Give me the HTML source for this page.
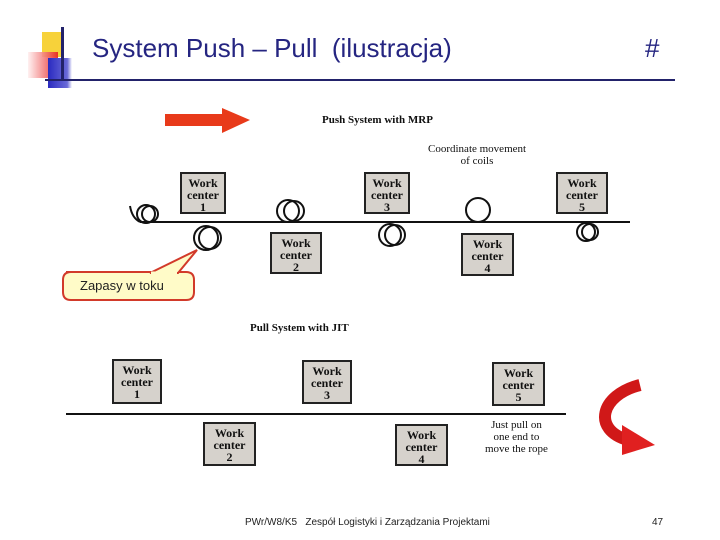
<!DOCTYPE html>
<html><head><style>
body{margin:0;width:720px;height:540px;background:#fff;position:relative;overflow:hidden;font-family:"Liberation Serif",serif}
.wc{position:absolute;background:#d6d2cc;border:2px solid #222;box-sizing:border-box;text-align:center;font-size:12px;line-height:12px;color:#111;font-weight:bold;padding-top:3px}
.t{position:absolute;font-size:11px;color:#111}
</style></head><body>
<div style="position:absolute;left:42px;top:32px;width:22px;height:25px;background:#f7d23a"></div>
<div style="position:absolute;left:28px;top:52px;width:30px;height:26px;background:linear-gradient(90deg,#fff0f0,#e82020);opacity:.9"></div>
<div style="position:absolute;left:48px;top:58px;width:24px;height:30px;background:linear-gradient(90deg,#2a2ac0,#6a6ad8 80%,#fff)"></div>
<div style="position:absolute;left:61px;top:27px;width:3px;height:54px;background:#22226a"></div>
<div style="position:absolute;left:45px;top:79px;width:630px;height:2px;background:#22226a"></div>
<div style="position:absolute;left:92px;top:33px;font:26px 'Liberation Sans',sans-serif;color:#252581">System Push – Pull&nbsp; (ilustracja)</div>
<div style="position:absolute;left:645px;top:33px;font:26px 'Liberation Sans',sans-serif;color:#252581">#</div>

<svg style="position:absolute;left:0;top:0" width="720" height="540">
<polygon points="165,114 222,114 222,108 250,120 222,133 222,126 165,126" fill="#e83a1a"/>
<line x1="140" y1="222" x2="630" y2="222" stroke="#111" stroke-width="2"/>
<line x1="66" y1="414" x2="566" y2="414" stroke="#111" stroke-width="2"/>
<g fill="none" stroke="#111" stroke-width="2">
<circle cx="146" cy="214" r="9"/><circle cx="150" cy="214" r="8"/><path d="M130,206 q2,12 10,16"/>
<circle cx="206" cy="238" r="12"/><circle cx="210" cy="238" r="11"/>
<circle cx="288" cy="211" r="11"/><circle cx="294" cy="211" r="10"/>
<circle cx="390" cy="235" r="11"/><circle cx="395" cy="235" r="10"/>
<circle cx="478" cy="210" r="12"/>
<circle cx="586" cy="232" r="9"/><circle cx="590" cy="232" r="8"/>
</g>
<path d="M66,272 h120 q8,0 8,8 v12 q0,8 -8,8 h-115 q-8,0 -8,-8 v-12 q0,-8 8,-8 z" fill="#fffbc8" stroke="#d23a2a" stroke-width="2"/>
<polygon points="150,273 197,250 178,273" fill="#fffbc8" stroke="#d23a2a" stroke-width="2"/>
<line x1="151" y1="273" x2="177" y2="273" stroke="#fffbc8" stroke-width="3"/>
<path d="M640,385 C600,395 592,430 628,440" fill="none" stroke="#d01818" stroke-width="12"/>
<polygon points="622,425 655,445 622,455" fill="#e02020"/>
</svg>
<div style="position:absolute;left:80px;top:278px;font:13px 'Liberation Sans',sans-serif;color:#222">Zapasy w toku</div>

<div class="t" style="left:322px;top:114px;font-weight:bold;font-size:11px">Push System with MRP</div>
<div class="t" style="left:428px;top:143px;text-align:center;line-height:12px">Coordinate movement<br>of coils</div>
<div class="wc" style="left:180px;top:172px;width:46px;height:42px">Work<br>center<br>1</div>
<div class="wc" style="left:364px;top:172px;width:46px;height:42px">Work<br>center<br>3</div>
<div class="wc" style="left:556px;top:172px;width:52px;height:42px">Work<br>center<br>5</div>
<div class="wc" style="left:270px;top:232px;width:52px;height:42px">Work<br>center<br>2</div>
<div class="wc" style="left:461px;top:233px;width:53px;height:43px">Work<br>center<br>4</div>

<div class="t" style="left:250px;top:322px;font-weight:bold">Pull System with JIT</div>
<div class="wc" style="left:112px;top:359px;width:50px;height:45px">Work<br>center<br>1</div>
<div class="wc" style="left:302px;top:360px;width:50px;height:44px">Work<br>center<br>3</div>
<div class="wc" style="left:492px;top:362px;width:53px;height:44px">Work<br>center<br>5</div>
<div class="wc" style="left:203px;top:422px;width:53px;height:44px">Work<br>center<br>2</div>
<div class="wc" style="left:395px;top:424px;width:53px;height:42px">Work<br>center<br>4</div>
<div class="t" style="left:485px;top:419px;text-align:center;line-height:12px">Just pull on<br>one end to<br>move the rope</div>

<div style="position:absolute;left:245px;top:517px;font:10px 'Liberation Sans',sans-serif;color:#222">PWr/W8/K5&nbsp;&nbsp; Zespół Logistyki i Zarządzania Projektami</div>
<div style="position:absolute;left:652px;top:517px;font:10px 'Liberation Sans',sans-serif;color:#222">47</div>
</body></html>
